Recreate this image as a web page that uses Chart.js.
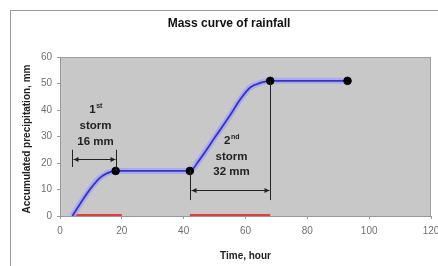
<!DOCTYPE html>
<html><head><meta charset="utf-8">
<script src="https://cdn.jsdelivr.net/npm/chart.js@4/dist/chart.umd.min.js"></script>
<style>html,body{margin:0;padding:0;background:#fff}#wrap{width:438px;height:266px;position:relative}</style>
</head><body><div id="wrap"><canvas id="c" width="438" height="266"></canvas></div>
<script>
const chartTitle = "Mass curve of rainfall";
const xTitle = "Time, hour";
const yTitle = "Accumulated precipitation, mm";
const timeHours = [4, 7, 10, 13, 15, 18, 42, 45, 50, 55, 58.3, 61.5, 65, 68, 93];
const accumMm  = [0, 5.5, 10.5, 14.5, 16, 17, 17, 21, 29.5, 38, 44, 48.5, 50.3, 51, 51];
const markerX = [18, 42, 68, 93];
const markerY = [17, 17, 51, 51];
const storm1 = [4, 20];
const storm2 = [42, 68];
const storm1Label = ["1st", "storm", "16 mm"];
const storm2Label = ["2nd", "storm", "32 mm"];

const curve = timeHours.map((x,i)=>({x, y: accumMm[i]}));
const markers = markerX.map((x,i)=>({x, y: markerY[i]}));
const FF = '"Liberation Sans", Arial, sans-serif';

const deco = {
  id:'deco',
  beforeDraw(chart){
    const {ctx, chartArea:a} = chart;
    ctx.save();
    ctx.fillStyle='#c8c8c8';
    ctx.fillRect(a.left,a.top,a.right-a.left,a.bottom-a.top);
    ctx.strokeStyle='#a0a0a0'; ctx.lineWidth=1;
    ctx.strokeRect(a.left+0.5,a.top+0.5,a.right-a.left-1,a.bottom-a.top);
    ctx.strokeStyle='#9a9a9a';
    ctx.strokeRect(10.5,10.5,450,300);
    ctx.restore();
  },
  afterDatasetsDraw(chart){
    const {ctx, scales:{x,y}} = chart;
    ctx.save();
    ctx.strokeStyle='#222'; ctx.fillStyle='#222'; ctx.lineWidth=1;
    function arrow(x1,x2,yy){
      ctx.beginPath(); ctx.moveTo(x1,yy); ctx.lineTo(x2,yy); ctx.stroke();
      [[x1,1],[x2,-1]].forEach(([px,d])=>{
        ctx.beginPath(); ctx.moveTo(px,yy); ctx.lineTo(px+5*d,yy-2.5); ctx.lineTo(px+5*d,yy+2.5); ctx.closePath(); ctx.fill();
      });
    }
    function vline(px,y1,y2){ctx.beginPath();ctx.moveTo(px,y1);ctx.lineTo(px,y2);ctx.stroke();}
    const s1a=Math.round(x.getPixelForValue(4))+0.5, s1b=Math.round(x.getPixelForValue(18))+0.5;
    vline(s1a, y.getPixelForValue(25), y.getPixelForValue(18.5));
    vline(s1b, y.getPixelForValue(25), y.getPixelForValue(17));
    arrow(s1a+1, s1b-1, Math.round(y.getPixelForValue(21.5))+0.5);
    const s2a=Math.round(x.getPixelForValue(42))+0.5, s2b=Math.round(x.getPixelForValue(68))+0.5;
    vline(s2a, y.getPixelForValue(17), y.getPixelForValue(6));
    vline(s2b, y.getPixelForValue(51), y.getPixelForValue(6));
    arrow(s2a+1, s2b-1, Math.round(y.getPixelForValue(10))+0.5);
    const big='bold 11.5px '+FF, small='bold 7px '+FF;
    ctx.textBaseline='middle';
    function label(lines, cx, ys){
      lines.forEach((t,i)=>{
        ctx.font=big;
        if(i===0){
          const base=t.slice(0,1), sup=t.slice(1);
          const w1=ctx.measureText(base).width;
          ctx.font=small; const w2=ctx.measureText(sup).width;
          const sx=cx-(w1+w2)/2;
          ctx.textAlign='left';
          ctx.font=big; ctx.fillText(base,sx,ys[0]);
          ctx.font=small; ctx.fillText(sup,sx+w1+0.5,ys[0]-3.5);
        } else { ctx.textAlign='center'; ctx.fillText(t,cx,ys[i]); }
      });
    }
    label(storm1Label, x.getPixelForValue(11.5), [y.getPixelForValue(40), y.getPixelForValue(34), y.getPixelForValue(28)]);
    label(storm2Label, x.getPixelForValue(55.5), [y.getPixelForValue(28.5), y.getPixelForValue(22.5), y.getPixelForValue(16.5)]);
    ctx.font='bold 12px '+FF;
    ctx.fillStyle='#111'; ctx.textAlign='center';
    ctx.fillText(chartTitle, 229, 24);
    // y axis title
    ctx.save();
    ctx.translate(27, 139);
    ctx.rotate(-Math.PI/2);
    ctx.font='bold 10px '+FF;
    ctx.fillStyle='#222';
    ctx.fillText(yTitle, 0, 0);
    ctx.restore();
    ctx.restore();
  }
};

new Chart(document.getElementById('c'), {
  type:'line',
  data:{datasets:[
    {data:curve, borderColor:'#3535c0', borderWidth:1.8, pointRadius:0, cubicInterpolationMode:'monotone', order:1},
    {data:curve, borderColor:'rgba(165,165,245,0.85)', borderWidth:6, pointRadius:0, cubicInterpolationMode:'monotone', order:2},
    {data:markers, showLine:false, pointRadius:3.8, pointBackgroundColor:'#000', pointBorderColor:'#000', order:0},
    {data:storm1.map(x=>({x,y:0})), borderColor:'#e63c3c', borderWidth:4, pointRadius:0, order:3},
    {data:storm2.map(x=>({x,y:0})), borderColor:'#e63c3c', borderWidth:4, pointRadius:0, order:3}
  ]},
  plugins:[deco],
  options:{
    responsive:false, animation:false, devicePixelRatio:1,
    layout:{padding:{left:18,right:7,top:57,bottom:0}},
    plugins:{legend:{display:false}, tooltip:{enabled:false}, title:{display:false}},
    scales:{
      x:{type:'linear', min:0, max:120,
        ticks:{stepSize:20, color:'#707070', font:{size:10, family:FF}, padding:6, maxRotation:0},
        grid:{display:true, drawOnChartArea:false, tickLength:3, color:'#999'},
        border:{color:'#999'},
        title:{display:true, text:xTitle, color:'#222', font:{size:10, weight:'bold', family:FF}, padding:{top:6,bottom:4}},
        afterFit(s){s.height=50; s.paddingRight=0; s.paddingLeft=0;}
      },
      y:{min:0, max:60,
        ticks:{stepSize:10, color:'#707070', font:{size:10, family:FF}, padding:5},
        grid:{display:true, drawOnChartArea:false, tickLength:3, color:'#999'},
        border:{color:'#999'},
        title:{display:false},
        afterFit(s){s.width=42;}
      }
    }
  }
});
</script></body></html>
